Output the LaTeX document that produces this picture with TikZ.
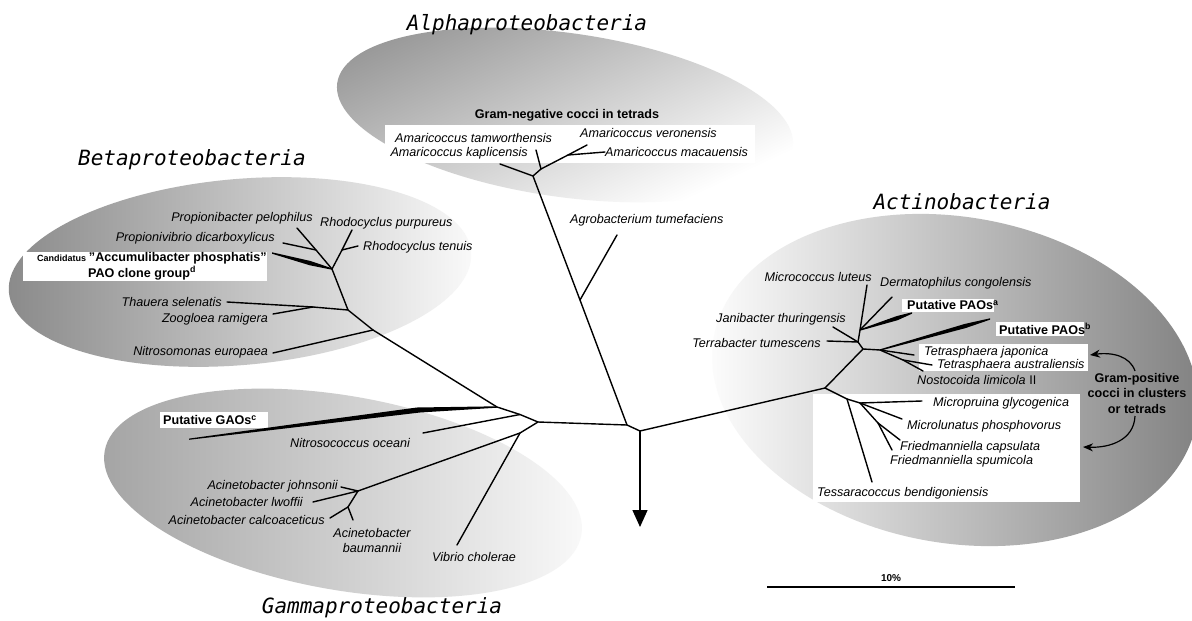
\documentclass[tikz,border=0pt]{standalone}
\usepackage{fontspec}
\setmainfont{Liberation Sans}
\newfontfamily\titlefont{DejaVu Sans Mono}
\usetikzlibrary{arrows.meta,calc}
\begin{document}
\tikzset{
  br/.style={line width=1.4pt, line cap=round, line join=round},
  sp/.style={font=\fontsize{12.6}{15}\selectfont\itshape, inner sep=0pt},
  bd/.style={font=\fontsize{12.6}{15.5}\selectfont\bfseries, inner sep=0pt},
  ttl/.style={font=\titlefont\itshape\fontsize{21}{24}\selectfont, inner sep=0pt},
  wbox/.style={fill=white, draw=none},
  wedge/.style={fill=black, draw=none},
  gparrow/.style={line width=1.2pt, -{Stealth[length=10pt,width=8pt]}},
}
\begin{tikzpicture}[x=1pt,y=-1pt]
\useasboundingbox (0,0) rectangle (1192,621);
\fill[white] (0,0) rectangle (1192,621);

% ---------- shaded clade ellipses ----------
\shade[top color=black!40, bottom color=white, shading angle=25, rotate around={-8:(565,115)}] (565,115) ellipse [x radius=230pt, y radius=82pt];
\shade[left color=black!46, right color=black!2, rotate around={5:(240,272)}] (240,272) ellipse [x radius=232pt, y radius=93pt];
\shade[left color=black!36, right color=black!2, rotate around={-10:(343,493)}] (343,493) ellipse [x radius=242pt, y radius=97pt];
\shade[left color=white, right color=black!50, rotate around={-10:(955,380)}] (955,380) ellipse [x radius=245pt, y radius=163pt];

% ---------- white label boxes ----------
\fill[wbox] (385,125) rectangle (755,163);
\fill[wbox] (23,252) rectangle (267,281);
\fill[wbox] (160,412) rectangle (268,428);
\fill[wbox] (902,299) rectangle (994,312);
\fill[wbox] (996,322) rectangle (1084,336);
\fill[wbox] (919,344) rectangle (1088,371);
\fill[wbox] (813,394) rectangle (1080,502);

% ---------- tree coordinates ----------
\coordinate (C) at (640,431);
\coordinate (A) at (627,425);
\coordinate (G) at (538,422);
\coordinate (arrowtip) at (640,527);
% alpha
\coordinate (agj) at (580,300);
\coordinate (N1) at (533,176);
\coordinate (N2) at (541,169);
\coordinate (N3) at (568,155);
\coordinate (tkap) at (500,164);
\coordinate (ttam) at (536,150);
\coordinate (tver) at (587,145);
\coordinate (tmac) at (605,152);
\coordinate (tagro) at (617,235);
% beta
\coordinate (J2) at (520,414.5);
\coordinate (J1) at (497,407);
\coordinate (B1) at (373,330);
\coordinate (B2) at (348,310);
\coordinate (B3) at (332,269);
\coordinate (TZ) at (313,307);
\coordinate (tthau) at (227,302);
\coordinate (tzoo) at (273,314);
\coordinate (tnitm) at (273,353);
\coordinate (tpel) at (297,228);
\coordinate (PV) at (316,250);
\coordinate (tpropv) at (283,243);
\coordinate (trpur) at (352,230);
\coordinate (RT) at (342,250);
\coordinate (trten) at (358,246);
% gamma
\coordinate (tnitc) at (423,433);
\coordinate (V) at (520,433);
\coordinate (AC1) at (358,491);
\coordinate (AC2) at (348,507);
\coordinate (tjoh) at (341,487);
\coordinate (tlwo) at (313,502);
\coordinate (tcal) at (330,518);
\coordinate (tbau) at (353,520);
\coordinate (tvib) at (457,545);
% actino
\coordinate (AL) at (825,388);
\coordinate (AU) at (863,349);
\coordinate (K) at (858,342);
\coordinate (K2) at (860,330);
\coordinate (tmic) at (867,285);
\coordinate (tder) at (892,297);
\coordinate (tjan) at (833,327);
\coordinate (tter) at (827,341);
\coordinate (T) at (880,350);
\coordinate (tjap) at (914,355);
\coordinate (S) at (903,360);
\coordinate (taus) at (932,365);
\coordinate (tnos) at (923,371);
\coordinate (M1) at (847,399);
\coordinate (M2) at (860,403);
\coordinate (M3) at (878,423);
\coordinate (tmcp) at (922,401);
\coordinate (tmcl) at (902,419);
\coordinate (tfca) at (900,440);
\coordinate (tfsp) at (892,450);
\coordinate (ttes) at (872,482);

% ---------- branches ----------
\draw[br] (C) -- (A) -- (G) -- (J2) -- (J1) -- (B1) -- (B2) -- (B3);
\draw[br] (A) -- (agj) -- (N1) -- (tkap);
\draw[br] (N1) -- (N2) -- (ttam);
\draw[br] (N2) -- (N3) -- (tver);
\draw[br] (N3) -- (tmac);
\draw[br] (agj) -- (tagro);
% beta
\draw[br] (B3) -- (PV) -- (tpel);
\draw[br] (PV) -- (tpropv);
\draw[br] (B3) -- (RT) -- (trpur);
\draw[br] (RT) -- (trten);
\draw[br] (B2) -- (TZ) -- (tthau);
\draw[br] (TZ) -- (tzoo);
\draw[br] (B1) -- (tnitm);
% gamma
\draw[br] (J2) -- (tnitc);
\draw[br] (G) -- (V) -- (AC1) -- (tjoh);
\draw[br] (AC1) -- (tlwo);
\draw[br] (AC1) -- (AC2) -- (tcal);
\draw[br] (AC2) -- (tbau);
\draw[br] (V) -- (tvib);
% actino
\draw[br] (C) -- (AL) -- (AU) -- (K) -- (K2) -- (tmic);
\draw[br] (K2) -- (tder);
\draw[br] (K) -- (tjan);
\draw[br] (K) -- (tter);
\draw[br] (AU) -- (T) -- (tjap);
\draw[br] (T) -- (S) -- (taus);
\draw[br] (S) -- (tnos);
\draw[br] (AL) -- (M1) -- (M2) -- (tmcp);
\draw[br] (M2) -- (tmcl);
\draw[br] (M2) -- (M3) -- (tfca);
\draw[br] (M3) -- (tfsp);
\draw[br] (M1) -- (ttes);
% root arrow
\draw[br, -{Triangle[length=17pt,width=15pt]}] (C) -- (arrowtip);

% ---------- thick wedge branches ----------
% putative GAOs
\coordinate (gao0) at (189,438.6);
\coordinate (gao1) at (300,423.3);
\coordinate (gao2) at (417,407.5);
\coordinate (gao3) at (497,406.3);
\coordinate (gao4) at (497,407.7);
\coordinate (gao5) at (420,412.5);
\coordinate (gao6) at (300,426.7);
\coordinate (gao7) at (189,439.8);
\fill[wedge] (gao0) -- (gao1) -- (gao2) -- (gao3) -- (gao4) -- (gao5) -- (gao6) -- (gao7) -- cycle;
% Candidatus Accumulibacter
\coordinate (ca0) at (272,252.3);
\coordinate (ca1) at (310.5,261.0);
\coordinate (ca2) at (332,268.3);
\coordinate (ca3) at (332,269.7);
\coordinate (ca4) at (309.5,265.2);
\coordinate (ca5) at (272,253.7);
\fill[wedge] (ca0) -- (ca1) -- (ca2) -- (ca3) -- (ca4) -- (ca5) -- cycle;
% putative PAOs a
\coordinate (pa0) at (860,329.3);
\coordinate (pa1) at (896.4,316.2);
\coordinate (pa2) at (912,312.3);
\coordinate (pa3) at (912,313.7);
\coordinate (pa4) at (897.6,320.2);
\coordinate (pa5) at (860,330.7);
\fill[wedge] (pa0) -- (pa1) -- (pa2) -- (pa3) -- (pa4) -- (pa5) -- cycle;
% putative PAOs b
\coordinate (pb0) at (880,349.3);
\coordinate (pb1) at (964.5,324.0);
\coordinate (pb2) at (990,318.3);
\coordinate (pb3) at (990,319.7);
\coordinate (pb4) at (965.5,328.1);
\coordinate (pb5) at (880,350.7);
\fill[wedge] (pb0) -- (pb1) -- (pb2) -- (pb3) -- (pb4) -- (pb5) -- cycle;

% ---------- titles ----------
\node[ttl] (talpha) at (527,25) {Alphaproteobacteria};
\node[ttl] (tbeta) at (192,160) {Betaproteobacteria};
\node[ttl] (tactino) at (962,202) {Actinobacteria};
\node[ttl] (tgamma) at (382,608) {Gammaproteobacteria};

% ---------- alpha labels ----------
\node[bd] (gramneg) at (567,115) {Gram-negative cocci in tetrads};
\node[sp, anchor=west] (Ltam) at (395,138) {Amaricoccus tamworthensis};
\node[sp, anchor=east] (Lkap) at (528,153) {Amaricoccus kaplicensis};
\node[sp, anchor=west] (Lver) at (580,133) {Amaricoccus veronensis};
\node[sp, anchor=west] (Lmac) at (605,152) {Amaricoccus macauensis};
\node[sp, anchor=west] (Lagro) at (570,220) {Agrobacterium tumefaciens};

% ---------- beta labels ----------
\node[sp, anchor=east] (Lpel) at (313,218) {Propionibacter pelophilus};
\node[sp, anchor=east] (Lpropv) at (275,238) {Propionivibrio dicarboxylicus};
\node[anchor=east, inner sep=0pt] (Lcand) at (267,258) {{\fontsize{9}{10}\selectfont\bfseries Candidatus} {\fontsize{12.6}{15}\selectfont\bfseries \char34 Accumulibacter phosphatis\char34}};
\node[bd] (Lpao) at (142,273) {PAO clone group\textsuperscript{d}};
\node[sp, anchor=east] (Lthau) at (222,302) {Thauera selenatis};
\node[sp, anchor=east] (Lzoo) at (268,319) {Zoogloea ramigera};
\node[sp, anchor=east] (Lnitm) at (268,352) {Nitrosomonas europaea};
\node[sp, anchor=west] (Lrpur) at (320,223) {Rhodocyclus purpureus};
\node[sp, anchor=west] (Lrten) at (363,247) {Rhodocyclus tenuis};

% ---------- gamma labels ----------
\node[bd, anchor=west] (Lgao) at (163,420) {Putative GAOs\textsuperscript{c}};
\node[sp, anchor=west] (Lnitc) at (290,443) {Nitrosococcus oceani};
\node[sp, anchor=east] (Ljoh) at (338,486) {Acinetobacter johnsonii};
\node[sp, anchor=east] (Llwo) at (303,502) {Acinetobacter lwoffii};
\node[sp, anchor=east] (Lcal) at (325,520) {Acinetobacter calcoaceticus};
\node[sp, align=center] (Lbau) at (372,540.5) {Acinetobacter\\baumannii};
\node[sp, anchor=west] (Lvib) at (432,557) {Vibrio cholerae};

% ---------- actino labels ----------
\node[sp, anchor=east] (Lmic) at (872,277) {Micrococcus luteus};
\node[sp, anchor=west] (Lder) at (880,283) {Dermatophilus congolensis};
\node[bd, anchor=west] (Lpaoa) at (907,305) {Putative PAOs\textsuperscript{a}};
\node[sp, anchor=east] (Ljan) at (846,319) {Janibacter thuringensis};
\node[bd, anchor=west] (Lpaob) at (999,329) {Putative PAOs\textsuperscript{b}};
\node[sp, anchor=east] (Lter) at (821,343) {Terrabacter tumescens};
\node[sp, anchor=west] (Ljap) at (924,352) {Tetrasphaera japonica};
\node[sp, anchor=west] (Laus) at (937,365) {Tetrasphaera australiensis};
\node[anchor=west, inner sep=0pt, font=\fontsize{12.6}{15}\selectfont] (Lnos) at (917,380) {\textit{Nostocoida limicola} II};
\node[sp, anchor=west] (Lmcp) at (933,403) {Micropruina glycogenica};
\node[sp, anchor=west] (Lmcl) at (907,426) {Microlunatus phosphovorus};
\node[sp, anchor=west] (Lfca) at (900,447) {Friedmanniella capsulata};
\node[sp, anchor=west] (Lfsp) at (890,461) {Friedmanniella spumicola};
\node[sp, anchor=west] (Ltes) at (817,493) {Tessaracoccus bendigoniensis};
\node[bd, align=center] (gp) at (1137,393) {Gram-positive\\cocci in clusters\\or tetrads};
\coordinate (gpa1) at (1135,371);
\coordinate (gpa2) at (1090,355);
\coordinate (gpb1) at (1135,416);
\coordinate (gpb2) at (1083,447);
\draw[gparrow] (gpa1) .. controls (1130,356) and (1112,352) .. (gpa2);
\draw[gparrow] (gpb1) .. controls (1134,440) and (1110,448) .. (gpb2);

% ---------- scale bar ----------
\coordinate (sb1) at (767,587);
\coordinate (sb2) at (1015,587);
\draw[line width=1.6pt] (sb1) -- (sb2);
\node[anchor=south, inner sep=0pt, font=\fontsize{10}{12}\selectfont\bfseries] (sbl) at (891,582) {10\%};
\end{tikzpicture}
\end{document}
